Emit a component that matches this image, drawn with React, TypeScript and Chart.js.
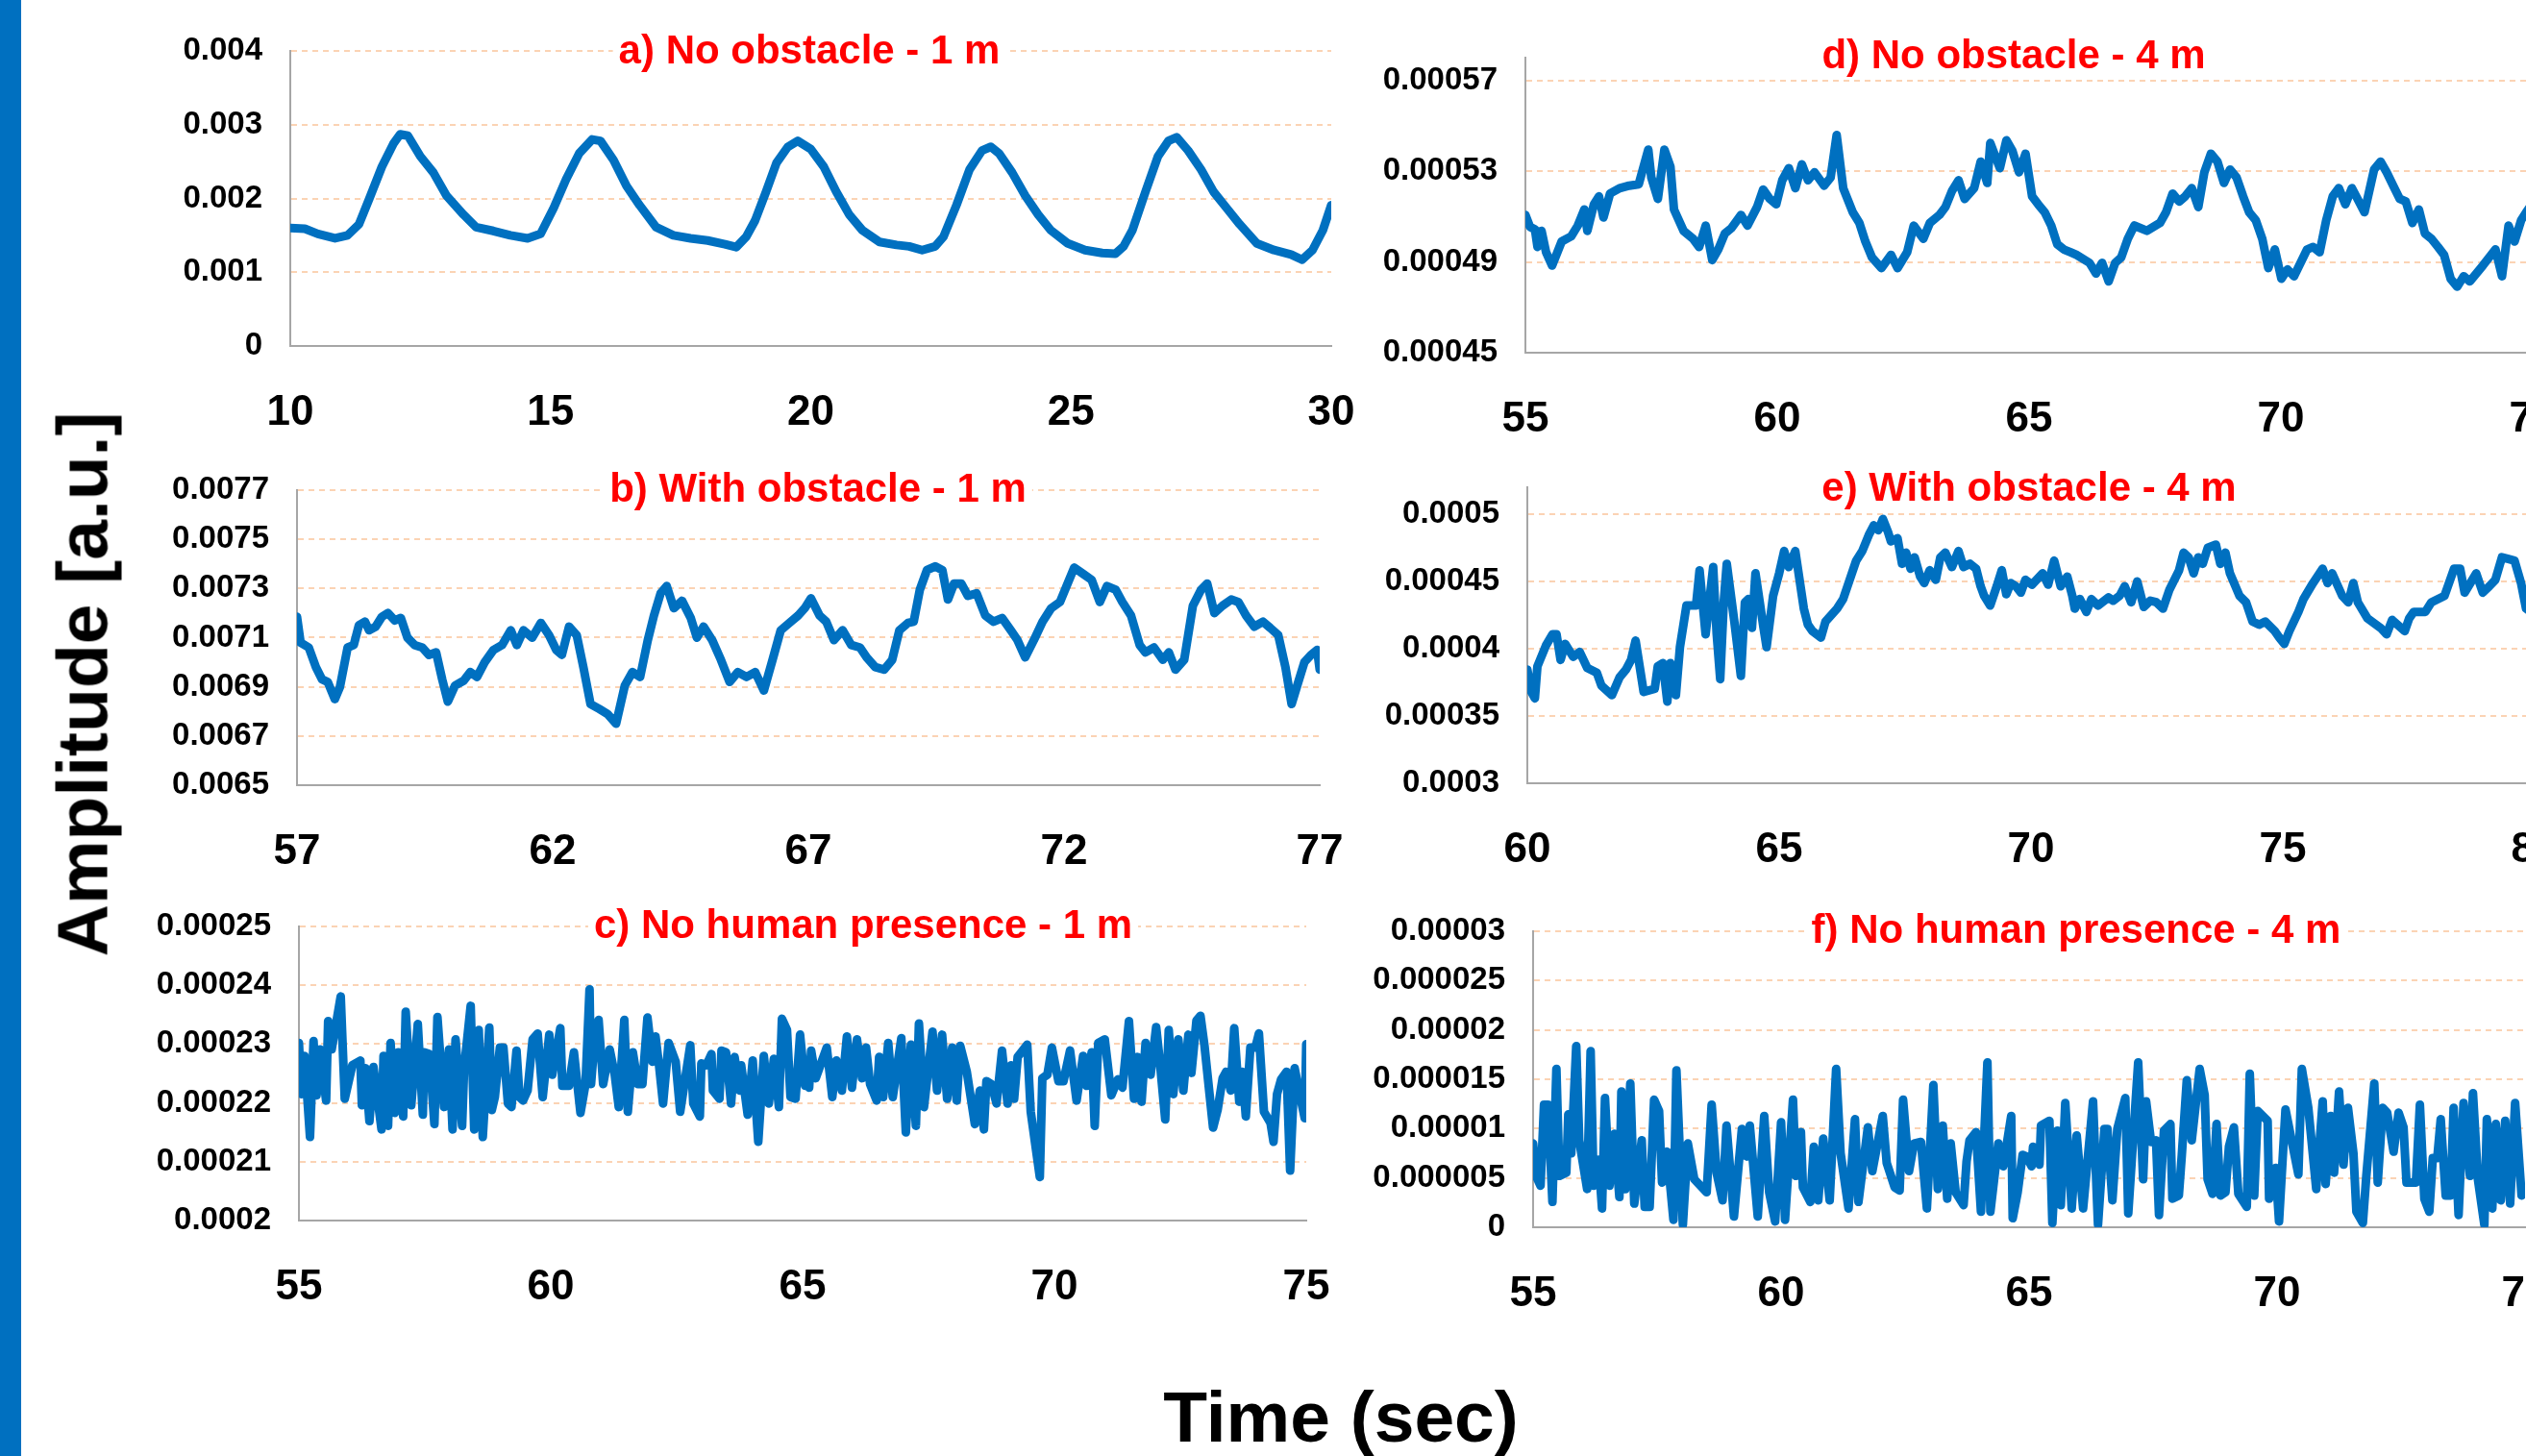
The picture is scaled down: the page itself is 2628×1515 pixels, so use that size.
import React, { useEffect, useRef } from "react";
import { Chart, registerables } from "chart.js";
Chart.register(...registerables);

const FONT = "'Liberation Sans', Arial, Helvetica, sans-serif";
const BLUE = "#0070c0";
const GRID = "#fbd3b4";
const AXIS = "#a6a6a6";

// ---------- a) No obstacle - 1 m  (values x1e-3) ----------
const T_A = [10.00,10.28,10.53,10.86,11.10,11.32,11.52,11.76,11.98,12.11,12.26,12.50,12.75,13.00,13.33,13.57,13.90,14.23,14.56,14.81,15.06,15.30,15.55,15.80,15.96,16.21,16.46,16.71,17.03,17.36,17.69,18.02,18.35,18.57,18.76,18.93,19.14,19.34,19.56,19.75,20.00,20.25,20.49,20.74,20.99,21.32,21.65,21.89,22.14,22.39,22.55,22.80,23.05,23.29,23.46,23.62,23.87,24.12,24.37,24.61,24.94,25.27,25.60,25.85,26.01,26.18,26.43,26.67,26.87,27.03,27.25,27.50,27.74,27.99,28.24,28.57,28.90,29.23,29.44,29.64,29.84,30.00];
const V_A = [1.60,1.59,1.52,1.46,1.50,1.65,2.00,2.43,2.74,2.87,2.85,2.57,2.35,2.04,1.78,1.61,1.56,1.50,1.46,1.52,1.87,2.26,2.61,2.80,2.78,2.52,2.17,1.91,1.61,1.50,1.46,1.43,1.38,1.34,1.48,1.70,2.09,2.48,2.70,2.78,2.67,2.43,2.09,1.78,1.57,1.41,1.37,1.35,1.30,1.35,1.48,1.91,2.39,2.65,2.70,2.61,2.35,2.04,1.78,1.57,1.39,1.30,1.26,1.25,1.35,1.57,2.09,2.57,2.78,2.83,2.65,2.39,2.09,1.87,1.65,1.39,1.30,1.24,1.17,1.30,1.57,1.91];
const X_TICKS_A = [10, 15, 20, 25, 30];
const Y_TICKS_A = [0, 0.001, 0.002, 0.003, 0.004];
const Y_LABELS_A = ["0", "0.001", "0.002", "0.003", "0.004"];

// ---------- b) With obstacle - 1 m  (values x1e-4) ----------
const T_B = [57.00,57.07,57.23,57.37,57.49,57.60,57.74,57.84,57.99,58.11,58.21,58.33,58.41,58.54,58.66,58.78,58.91,59.03,59.16,59.30,59.45,59.58,59.72,59.84,59.95,60.09,60.26,60.39,60.52,60.67,60.84,61.01,61.18,61.30,61.43,61.60,61.77,61.93,62.07,62.18,62.32,62.47,62.60,62.74,62.91,63.07,63.24,63.41,63.56,63.71,63.86,63.98,64.11,64.23,64.37,64.53,64.70,64.82,64.95,65.12,65.29,65.46,65.62,65.79,65.96,66.13,66.30,66.46,66.63,66.80,66.93,67.05,67.22,67.35,67.50,67.67,67.84,68.01,68.14,68.31,68.48,68.64,68.78,68.95,69.06,69.18,69.32,69.48,69.62,69.73,69.85,69.99,70.12,70.29,70.46,70.62,70.79,70.96,71.09,71.24,71.41,71.58,71.75,71.92,72.05,72.20,72.37,72.54,72.70,72.84,73.01,73.14,73.31,73.48,73.59,73.76,73.93,74.05,74.18,74.35,74.52,74.68,74.80,74.94,75.10,75.27,75.41,75.56,75.72,75.89,76.03,76.19,76.33,76.45,76.56,76.70,76.83,76.95,77.00];
const V_B = [71.85,70.8,70.6,69.8,69.3,69.2,68.5,69.0,70.6,70.7,71.5,71.65,71.3,71.45,71.85,72.0,71.7,71.8,71.0,70.7,70.6,70.3,70.4,69.3,68.4,69.05,69.25,69.6,69.4,70.0,70.5,70.7,71.3,70.7,71.3,71.0,71.6,71.1,70.5,70.3,71.45,71.1,69.8,68.3,68.1,67.9,67.5,69.05,69.6,69.4,70.9,71.9,72.8,73.1,72.2,72.5,71.8,71.0,71.45,70.9,70.1,69.2,69.6,69.4,69.6,68.85,70.1,71.3,71.6,71.9,72.2,72.6,71.9,71.65,70.9,71.3,70.7,70.6,70.2,69.8,69.7,70.1,71.3,71.6,71.65,72.95,73.75,73.9,73.75,72.55,73.2,73.2,72.7,72.8,71.9,71.65,71.8,71.3,70.9,70.2,70.9,71.65,72.2,72.45,73.1,73.85,73.6,73.35,72.45,73.1,72.95,72.45,71.9,70.7,70.4,70.6,70.1,70.4,69.7,70.1,72.3,72.95,73.2,72.0,72.3,72.55,72.45,71.9,71.45,71.65,71.4,71.1,69.8,68.3,69.05,70.0,70.3,70.5,69.7];
const X_TICKS_B = [57, 62, 67, 72, 77];
const Y_TICKS_B = [0.0065, 0.0067, 0.0069, 0.0071, 0.0073, 0.0075, 0.0077];
const Y_LABELS_B = ["0.0065", "0.0067", "0.0069", "0.0071", "0.0073", "0.0075", "0.0077"];

// ---------- c) No human presence - 1 m  (values x1e-5) ----------
const T_C = [55.00,55.05,55.11,55.22,55.29,55.35,55.42,55.54,55.58,55.65,55.83,55.91,56.06,56.22,56.25,56.32,56.40,56.48,56.64,56.68,56.77,56.82,56.90,56.97,57.07,57.12,57.23,57.36,57.46,57.49,57.59,57.69,57.75,57.88,57.98,58.05,58.11,58.24,58.28,58.41,58.48,58.57,58.65,58.78,58.83,58.89,58.99,59.06,59.15,59.22,59.32,59.38,59.45,59.54,59.64,59.74,59.84,59.97,60.03,60.19,60.23,60.36,60.46,60.59,60.69,60.77,60.80,60.85,60.95,61.04,61.17,61.27,61.35,61.46,61.53,61.63,61.73,61.82,61.92,62.02,62.08,62.15,62.23,62.34,62.48,62.57,62.77,62.83,62.96,62.99,63.09,63.19,63.22,63.35,63.39,63.48,63.58,63.65,63.75,63.78,63.91,64.01,64.12,64.23,64.33,64.43,64.53,64.59,64.69,64.76,64.86,64.95,65.05,65.07,65.13,65.17,65.26,65.48,65.59,65.67,65.78,65.88,65.98,66.08,66.18,66.26,66.34,66.47,66.52,66.60,66.70,66.79,66.96,67.05,67.15,67.25,67.31,67.41,67.58,67.67,67.77,67.87,67.97,68.06,68.13,68.26,68.42,68.52,68.60,68.65,68.75,68.85,68.96,69.07,69.14,69.20,69.27,69.46,69.53,69.71,69.76,69.86,69.95,70.08,70.18,70.31,70.44,70.57,70.64,70.74,70.80,70.87,71.00,71.13,71.26,71.35,71.48,71.58,71.65,71.73,71.81,71.91,72.02,72.10,72.20,72.27,72.36,72.46,72.56,72.66,72.72,72.82,72.90,72.98,73.08,73.15,73.24,73.34,73.41,73.50,73.57,73.67,73.73,73.80,73.89,73.99,74.06,74.16,74.29,74.35,74.42,74.50,74.61,74.68,74.77,74.87,74.97,75.00];
const V_C = [23.02,22.15,22.80,21.42,23.05,22.13,22.91,22.04,23.39,22.91,23.81,22.07,22.64,22.72,21.96,22.59,21.69,22.61,21.55,22.80,21.61,23.02,21.83,22.86,21.77,23.55,21.96,23.34,21.80,22.86,22.83,21.64,23.46,21.93,22.91,21.55,23.08,21.61,22.59,23.65,21.55,23.24,21.42,23.28,21.88,22.10,22.94,22.94,21.99,21.93,22.89,22.10,22.04,22.21,23.08,23.18,22.10,23.16,22.48,23.27,22.29,22.29,22.86,21.83,22.32,23.93,22.32,22.86,23.41,22.32,22.91,22.48,21.93,23.41,21.85,22.86,22.32,22.32,23.45,22.70,23.13,22.64,21.99,23.02,22.70,21.85,22.98,21.99,21.77,22.67,22.64,22.83,22.21,22.07,22.89,22.86,21.99,22.78,22.21,22.64,21.80,22.72,21.34,22.80,21.99,22.75,21.93,23.43,23.24,22.10,22.07,23.16,22.29,22.53,22.26,22.89,22.42,22.94,22.10,22.72,22.21,23.13,22.26,23.08,22.42,22.94,22.32,22.04,22.78,22.10,23.02,22.10,23.10,21.50,22.99,21.61,23.35,21.93,23.21,22.21,23.16,22.07,22.94,22.04,22.97,22.53,21.64,22.21,21.55,22.37,22.32,21.99,22.89,21.99,22.64,22.07,22.78,22.99,21.85,20.74,22.42,22.48,22.94,22.37,22.37,22.89,22.04,22.80,22.29,22.86,21.61,23.02,23.08,22.13,22.40,22.26,23.39,22.07,22.78,22.02,23.02,22.48,23.29,22.64,21.72,23.24,22.15,23.08,22.21,23.16,22.51,23.40,23.48,22.97,22.15,21.58,21.88,22.42,22.53,22.21,23.27,22.02,22.53,21.77,22.94,22.94,23.18,21.85,21.66,21.34,22.15,22.40,22.53,20.85,22.59,22.15,21.74,23.00];
const X_TICKS_C = [55, 60, 65, 70, 75];
const Y_TICKS_C = [0.0002, 0.00021, 0.00022, 0.00023, 0.00024, 0.00025];
const Y_LABELS_C = ["0.0002", "0.00021", "0.00022", "0.00023", "0.00024", "0.00025"];

// ---------- d) No obstacle - 4 m  (values x1e-5) ----------
const T_D = [55.00,55.09,55.19,55.24,55.32,55.41,55.53,55.72,55.91,56.04,56.17,56.23,56.36,56.46,56.55,56.68,56.87,57.06,57.25,57.44,57.50,57.63,57.76,57.88,57.95,58.14,58.33,58.45,58.58,58.71,58.83,58.96,59.09,59.28,59.41,59.60,59.72,59.85,59.98,60.10,60.23,60.36,60.49,60.61,60.74,60.93,61.06,61.18,61.31,61.50,61.63,61.75,61.88,62.07,62.26,62.39,62.58,62.71,62.90,63.03,63.22,63.34,63.47,63.60,63.72,63.91,64.04,64.17,64.23,64.42,64.55,64.67,64.80,64.93,65.06,65.18,65.31,65.44,65.56,65.69,65.82,65.94,66.20,66.33,66.45,66.58,66.71,66.83,66.96,67.09,67.34,67.60,67.72,67.85,67.98,68.10,68.23,68.36,68.48,68.61,68.74,68.87,68.99,69.12,69.25,69.37,69.50,69.63,69.75,69.88,70.01,70.13,70.26,70.52,70.64,70.77,70.90,71.03,71.15,71.28,71.41,71.66,71.85,71.98,72.10,72.23,72.36,72.48,72.61,72.74,72.86,72.99,73.12,73.24,73.37,73.50,73.63,73.75,73.88,74.01,74.26,74.39,74.52,74.64,74.77,74.87,75.00];
const V_D = [51.07,50.55,50.43,49.66,50.37,49.43,48.84,49.90,50.13,50.60,51.31,50.37,51.54,51.89,50.96,52.01,52.25,52.36,52.42,53.95,52.72,51.78,53.95,53.19,51.31,50.37,50.02,49.66,50.60,49.08,49.55,50.25,50.49,51.07,50.60,51.42,52.19,51.78,51.54,52.60,53.13,52.25,53.30,52.60,52.95,52.36,52.72,54.59,52.25,51.19,50.72,49.90,49.20,48.73,49.31,48.73,49.43,50.60,50.02,50.72,51.07,51.42,52.13,52.60,51.78,52.25,53.42,52.48,54.24,53.13,54.36,53.89,52.95,53.77,51.89,51.54,51.19,50.60,49.78,49.55,49.43,49.31,48.96,48.49,48.96,48.14,48.96,49.20,50.02,50.60,50.37,50.72,51.19,52.01,51.66,51.89,52.25,51.42,52.95,53.77,53.42,52.48,53.07,52.72,51.89,51.19,50.84,50.02,48.73,49.55,48.26,48.67,48.37,49.55,49.66,49.43,50.84,51.89,52.25,51.54,52.25,51.19,53.07,53.42,52.95,52.36,51.78,51.66,50.72,51.31,50.25,50.02,49.66,49.31,48.26,47.91,48.37,48.14,48.49,48.84,49.55,48.37,50.60,49.90,50.84,51.19,51.60];
const X_TICKS_D = [55, 60, 65, 70, 75];
const Y_TICKS_D = [0.00045, 0.00049, 0.00053, 0.00057];
const Y_LABELS_D = ["0.00045", "0.00049", "0.00053", "0.00057"];

// ---------- e) With obstacle - 4 m  (values x1e-5) ----------
const T_E = [60.00,60.08,60.15,60.20,60.37,60.50,60.58,60.66,60.75,60.91,61.04,61.19,61.38,61.47,61.68,61.83,61.96,62.06,62.15,62.31,62.53,62.59,62.69,62.78,62.84,62.95,63.03,63.16,63.35,63.42,63.54,63.69,63.76,63.83,63.90,63.96,64.11,64.24,64.32,64.39,64.46,64.53,64.69,64.75,64.88,65.00,65.10,65.19,65.32,65.49,65.57,65.66,65.83,65.92,66.15,66.27,66.53,66.65,66.78,66.88,66.97,67.06,67.16,67.22,67.35,67.44,67.52,67.61,67.69,67.80,67.88,67.99,68.11,68.20,68.30,68.43,68.56,68.66,68.79,68.91,69.00,69.07,69.19,69.32,69.42,69.51,69.60,69.70,69.80,69.89,70.02,70.23,70.34,70.46,70.59,70.72,70.82,70.87,70.97,71.10,71.20,71.33,71.54,71.63,71.76,71.86,71.99,72.11,72.24,72.37,72.49,72.62,72.75,72.94,73.03,73.13,73.23,73.32,73.41,73.51,73.67,73.76,73.86,73.95,74.14,74.27,74.40,74.53,74.65,74.84,74.93,75.03,75.13,75.31,75.41,75.60,75.79,75.89,75.98,76.18,76.30,76.40,76.49,76.68,76.94,77.06,77.17,77.42,77.51,77.60,77.83,77.95,78.21,78.40,78.52,78.61,78.84,78.97,79.10,79.22,79.35,79.48,79.60,79.73,79.83,80.00];
const V_E = [38.45,36.79,36.31,38.69,40.24,41.07,41.07,39.17,40.36,39.40,39.76,38.57,38.21,37.26,36.55,37.86,38.45,39.17,40.60,36.79,37.02,38.69,38.93,36.07,38.93,36.55,40.12,43.21,43.21,45.83,41.07,46.07,41.07,37.74,43.45,46.31,42.02,37.98,43.45,43.69,41.55,45.60,41.55,40.12,43.93,45.60,47.26,46.07,47.26,42.98,41.79,41.31,40.83,42.02,42.98,43.69,46.55,47.26,48.45,49.17,48.81,49.64,48.69,47.98,48.21,46.31,47.14,45.95,46.79,45.36,44.88,45.83,45.12,46.79,47.14,46.07,47.26,46.07,46.31,45.95,44.64,43.93,43.21,44.64,45.83,44.05,44.88,44.64,44.17,45.12,44.76,45.60,44.76,46.55,44.64,45.36,43.93,42.98,43.69,42.74,43.69,43.21,43.81,43.57,43.93,44.64,43.45,45.00,43.10,43.57,43.45,42.98,44.40,45.83,47.14,46.79,45.60,46.79,46.31,47.50,47.74,46.31,47.14,45.60,43.93,43.45,42.02,41.79,42.02,41.31,40.83,40.36,41.31,42.74,43.69,44.88,45.95,44.88,45.60,43.93,43.45,44.88,43.45,42.26,41.55,41.07,42.14,41.31,42.26,42.74,42.74,43.45,43.93,45.95,45.95,44.17,45.60,44.17,44.64,45.12,46.79,46.67,46.55,44.88,42.98,42.50];
const X_TICKS_E = [60, 65, 70, 75, 80];
const Y_TICKS_E = [0.0003, 0.00035, 0.0004, 0.00045, 0.0005];
const Y_LABELS_E = ["0.0003", "0.00035", "0.0004", "0.00045", "0.0005"];

// ---------- f) No human presence - 4 m  (values x1e-6) ----------
const T_F = [55.00,55.06,55.15,55.22,55.30,55.39,55.47,55.53,55.67,55.71,55.77,55.87,55.93,56.09,56.16,56.22,56.32,56.39,56.45,56.54,56.64,56.74,56.78,56.86,56.96,57.04,57.19,57.25,57.35,57.44,57.54,57.60,57.70,57.83,57.89,58.02,58.12,58.25,58.50,58.60,58.70,58.82,58.90,59.05,59.21,59.31,59.37,59.53,59.66,59.76,59.88,60.00,60.08,60.24,60.30,60.40,60.44,60.59,60.66,60.75,60.85,60.98,61.11,61.20,61.36,61.49,61.56,61.75,61.84,62.05,62.13,62.29,62.39,62.46,62.58,62.68,62.82,62.94,63.07,63.16,63.26,63.35,63.42,63.52,63.68,63.74,63.80,63.93,64.03,64.16,64.22,64.38,64.48,64.64,64.67,64.77,64.87,64.95,65.05,65.08,65.21,65.24,65.41,65.47,65.57,65.64,65.73,65.86,65.96,66.09,66.29,66.39,66.52,66.58,66.68,66.78,66.94,67.00,67.20,67.30,67.36,67.46,67.56,67.62,67.72,67.85,67.89,68.02,68.08,68.18,68.28,68.44,68.54,68.60,68.70,68.78,68.86,68.96,69.03,69.13,69.22,69.39,69.45,69.54,69.61,69.81,69.84,69.97,70.04,70.17,70.43,70.50,70.63,70.79,70.92,70.98,71.08,71.15,71.25,71.34,71.43,71.54,71.60,71.73,71.80,71.96,72.03,72.13,72.22,72.35,72.45,72.55,72.61,72.80,72.88,72.97,73.07,73.14,73.23,73.30,73.40,73.50,73.56,73.66,73.76,73.89,73.95,74.05,74.18,74.23,74.34,74.41,74.51,74.60,74.70,74.80,74.93];
const V_F = [8.49,5.20,4.21,12.43,12.43,2.57,16.05,5.20,5.53,11.45,7.50,18.36,8.82,3.88,17.86,4.21,6.84,1.91,13.09,4.21,9.47,3.06,13.75,3.88,14.57,2.40,8.82,2.07,2.07,12.93,11.78,4.54,7.66,0.76,15.89,0.26,8.49,4.87,3.55,12.43,5.53,2.73,10.30,1.09,9.97,7.17,10.30,1.09,11.28,3.55,0.59,10.63,0.76,12.93,5.20,9.64,4.05,2.57,8.16,2.73,8.98,2.73,16.05,7.50,1.91,10.95,2.57,10.13,5.69,11.28,6.51,4.05,3.72,12.93,5.69,8.49,8.65,1.91,14.41,3.88,10.30,2.89,8.49,3.55,2.24,6.68,8.82,9.64,1.58,16.71,1.58,8.49,6.18,11.28,0.92,3.55,7.34,7.17,6.18,8.16,6.35,10.30,10.79,0.43,9.80,2.24,12.60,1.91,9.31,1.91,12.76,0.26,9.97,9.97,2.73,9.97,13.09,1.41,16.71,4.87,12.76,8.65,8.82,1.25,9.80,10.46,2.89,3.22,7.34,14.90,8.82,16.05,13.42,4.87,3.39,10.46,3.22,3.55,8.16,10.13,3.39,2.07,15.56,3.22,11.78,10.79,2.89,6.02,0.59,11.94,5.36,16.05,12.11,3.88,12.76,4.38,11.28,5.53,13.75,6.35,12.11,7.50,1.58,0.43,5.20,14.57,4.54,12.11,11.61,7.66,11.61,10.13,4.54,4.54,12.43,2.89,1.58,7.01,7.01,10.95,3.22,3.22,12.11,1.25,12.60,5.20,13.59,4.87,0.26,10.95,1.91,10.46,2.73,10.79,2.40,12.60,3.22];
const X_TICKS_F = [55, 60, 65, 70, 75];
const Y_TICKS_F = [0, 0.000005, 0.00001, 0.000015, 0.00002, 0.000025, 0.00003];
const Y_LABELS_F = ["0", "0.000005", "0.00001", "0.000015", "0.00002", "0.000025", "0.00003"];

type Panel = {
  id: string; title: string; t: number[]; v: number[]; unit: number;
  xTicks: number[]; yTicks: number[]; yLabels: string[];
  xMin: number; xMax: number; yMin: number; yMax: number;
  box: { l: number; r: number; t: number; b: number };
  titleX: number; titleY: number;
};

const PANELS: Panel[] = [
  { id: "a", title: "a) No obstacle - 1 m", t: T_A, v: V_A, unit: 1e-3, xTicks: X_TICKS_A, yTicks: Y_TICKS_A, yLabels: Y_LABELS_A,
    xMin: 10, xMax: 30, yMin: 0, yMax: 0.004, box: { l: 302, r: 1385, t: 53, b: 360 }, titleX: 540, titleY: 13 },
  { id: "b", title: "b) With obstacle - 1 m", t: T_B, v: V_B, unit: 1e-4, xTicks: X_TICKS_B, yTicks: Y_TICKS_B, yLabels: Y_LABELS_B,
    xMin: 57, xMax: 77, yMin: 0.0065, yMax: 0.0077, box: { l: 309, r: 1373, t: 510, b: 817 }, titleX: 542, titleY: 12 },
  { id: "c", title: "c) No human presence - 1 m", t: T_C, v: V_C, unit: 1e-5, xTicks: X_TICKS_C, yTicks: Y_TICKS_C, yLabels: Y_LABELS_C,
    xMin: 55, xMax: 75, yMin: 0.0002, yMax: 0.00025, box: { l: 311, r: 1359, t: 964, b: 1270 }, titleX: 587, titleY: 12 },
  { id: "d", title: "d) No obstacle - 4 m", t: T_D, v: V_D, unit: 1e-5, xTicks: X_TICKS_D, yTicks: Y_TICKS_D, yLabels: Y_LABELS_D,
    xMin: 55, xMax: 75, yMin: 0.00045, yMax: 0.00058, box: { l: 1587, r: 2635, t: 60, b: 367 }, titleX: 508, titleY: 11 },
  { id: "e", title: "e) With obstacle - 4 m", t: T_E, v: V_E, unit: 1e-5, xTicks: X_TICKS_E, yTicks: Y_TICKS_E, yLabels: Y_LABELS_E,
    xMin: 60, xMax: 80, yMin: 0.0003, yMax: 0.00052, box: { l: 1589, r: 2637, t: 507, b: 815 }, titleX: 522, titleY: 14 },
  { id: "f", title: "f) No human presence - 4 m", t: T_F, v: V_F, unit: 1e-6, xTicks: X_TICKS_F, yTicks: Y_TICKS_F, yLabels: Y_LABELS_F,
    xMin: 55, xMax: 75, yMin: 0, yMax: 0.00003, box: { l: 1595, r: 2627, t: 969, b: 1277 }, titleX: 565, titleY: 12 },
];

const titlePlugin = {
  id: "panelTitle",
  beforeDatasetsDraw(chart: any, _args: any, opts: any) {
    const { ctx, chartArea } = chart;
    ctx.save();
    ctx.font = `bold 42px ${FONT}`;
    const w = ctx.measureText(opts.text).width;
    const cx = chartArea.left + opts.x;
    const by = chartArea.top + opts.y;
    ctx.fillStyle = "#ffffff";
    ctx.fillRect(cx - w / 2 - 6, by - 34, w + 12, 44);
    ctx.fillStyle = "#ff0000";
    ctx.textAlign = "center";
    ctx.textBaseline = "alphabetic";
    ctx.fillText(opts.text, cx, by);
    ctx.restore();
  },
};

const W = 220, PT = 90, PR = 50, H = 110;

function PanelChart({ p }: { p: Panel }) {
  const ref = useRef<HTMLCanvasElement>(null);
  const cw = p.box.r - p.box.l + W + PR;
  const ch = p.box.b - p.box.t + PT + H;
  useEffect(() => {
    const chart = new Chart(ref.current as HTMLCanvasElement, {
      type: "line",
      data: {
        datasets: [{
          data: p.t.map((t, i) => ({ x: t, y: p.v[i] * p.unit })),
          borderColor: BLUE, borderWidth: 9, pointRadius: 0, tension: 0,
          borderJoinStyle: "round", borderCapStyle: "round", fill: false,
        }],
      },
      options: {
        responsive: false, animation: false, devicePixelRatio: 1,
        layout: { padding: { top: PT, right: PR, left: 0, bottom: 0 } },
        plugins: {
          legend: { display: false }, tooltip: { enabled: false },
          panelTitle: { text: p.title, x: p.titleX, y: p.titleY },
        } as any,
        scales: {
          x: {
            type: "linear", min: p.xMin, max: p.xMax,
            afterBuildTicks: (ax: any) => { ax.ticks = p.xTicks.map((v) => ({ value: v })); },
            afterFit: (s: any) => { s.height = H; s.paddingLeft = 0; s.paddingRight = 0; },
            grid: { display: false, drawTicks: false },
            border: { display: true, color: AXIS, width: 2 },
            ticks: {
              autoSkip: false, maxRotation: 0, minRotation: 0, padding: 43, color: "#000",
              font: { family: FONT, size: 44, weight: "bold" },
              callback: (v: any) => String(v),
            },
          },
          y: {
            type: "linear", min: p.yMin, max: p.yMax,
            afterBuildTicks: (ax: any) => { ax.ticks = p.yTicks.map((v) => ({ value: v })); },
            afterFit: (s: any) => { s.width = W; s.paddingTop = 0; s.paddingBottom = 0; },
            grid: { color: GRID, lineWidth: 2, drawTicks: false },
            border: { display: true, color: AXIS, width: 2, dash: [6, 5] },
            ticks: {
              autoSkip: false, padding: 29, color: "#000",
              font: { family: FONT, size: 33, weight: "bold" },
              callback: (_v: any, i: number) => p.yLabels[i],
            },
          },
        },
      } as any,
      plugins: [titlePlugin],
    });
    return () => chart.destroy();
  }, []);
  return (
    <canvas
      ref={ref}
      width={cw}
      height={ch}
      style={{ position: "absolute", left: p.box.l - W, top: p.box.t - PT, width: cw, height: ch }}
    />
  );
}

export default function App() {
  return (
    <div style={{ position: "fixed", left: 0, top: 0, width: 2628, height: 1515, overflow: "hidden", background: "#fff" }}>
      <div style={{ position: "absolute", left: 0, top: 0, width: 22, height: 1515, background: BLUE }} />
      {PANELS.map((p) => <PanelChart key={p.id} p={p} />)}
      <div style={{
        position: "absolute", left: 86, top: 712, transform: "translate(-50%, -50%) rotate(-90deg)",
        font: `bold 75px ${FONT}`, lineHeight: "75px", whiteSpace: "nowrap", color: "#000",
      }}>Amplitude [a.u.]</div>
      <div style={{
        position: "absolute", left: 1395, top: 1437, transform: "translateX(-50%)",
        font: `bold 75px ${FONT}`, lineHeight: "75px", whiteSpace: "nowrap", color: "#000",
      }}>Time (sec)</div>
    </div>
  );
}
